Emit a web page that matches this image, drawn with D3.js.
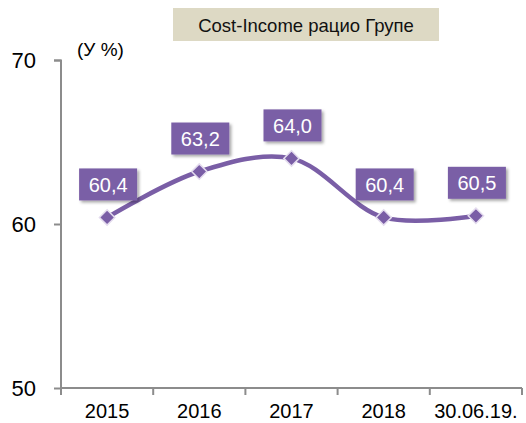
<!DOCTYPE html>
<html>
<head>
<meta charset="utf-8">
<script src="https://cdn.jsdelivr.net/npm/d3@7"></script>
<style>
  body { margin: 0; background: #fff; }
  text { font-family: "Liberation Sans", Arial, sans-serif; }
</style>
</head>
<body>
<script>
  var w = 526, h = 423;
  var categories = ["2015", "2016", "2017", "2018", "30.06.19."];
  var values = [60.4, 63.2, 64.0, 60.4, 60.5];
  var labels = ["60,4", "63,2", "64,0", "60,4", "60,5"];
  var yTicks = [50, 60, 70];
  var title = "Cost-Income рацио Групе";
  var unit = "(У %)";

  var purple = "#7a5ea6";
  var axisColor = "#8c8c8c";

  var svg = d3.select("body").append("svg")
    .attr("width", w).attr("height", h);

  var defs = svg.append("defs");
  var f = defs.append("filter").attr("id", "shadow")
    .attr("x", "-20%").attr("y", "-20%").attr("width", "150%").attr("height", "160%");
  f.append("feDropShadow").attr("dx", 2).attr("dy", 2).attr("stdDeviation", 1.8)
    .attr("flood-color", "#000").attr("flood-opacity", 0.35);

  var xScale = d3.scaleBand().domain(categories).range([61, 522]);
  var yScale = d3.scaleLinear().domain([50, 70]).range([388, 60]);

  // y axis
  var yAxis = d3.axisLeft(yScale).tickValues(yTicks).tickSize(7).tickPadding(18);
  var gy = svg.append("g").attr("transform", "translate(61,0)").call(yAxis);
  gy.select(".domain").attr("stroke", axisColor).attr("stroke-width", 2)
    .attr("d", "M-7,60.5H0V388");
  gy.selectAll(".tick line").attr("stroke", axisColor).attr("stroke-width", 2);
  gy.selectAll(".tick text").attr("font-size", 22).attr("fill", "#000")
    .attr("font-family", "Liberation Sans, Arial, sans-serif");

  // x axis
  var xAxis = d3.axisBottom(xScale).tickSize(0).tickPadding(16);
  var gx = svg.append("g").attr("transform", "translate(0,388)").call(xAxis);
  gx.select(".domain").attr("stroke", axisColor).attr("stroke-width", 2)
    .attr("d", "M61,0H522");
  gx.selectAll(".tick text").attr("font-size", 20).attr("fill", "#000")
    .attr("font-family", "Liberation Sans, Arial, sans-serif");
  var edges = categories.map(function (c) { return xScale(c); }).concat([xScale.range()[1]]);
  gx.selectAll(".sep").data(edges).enter().append("line")
    .attr("x1", function (d) { return d; }).attr("x2", function (d) { return d; })
    .attr("y1", 0).attr("y2", 7)
    .attr("stroke", axisColor).attr("stroke-width", 2);

  var cx = function (i) { return xScale(categories[i]) + xScale.bandwidth() / 2; };

  // line
  var line = d3.line()
    .x(function (d, i) { return cx(i); })
    .y(function (d) { return yScale(d); })
    .curve(d3.curveCatmullRom.alpha(0.5));
  svg.append("path").datum(values)
    .attr("fill", "none").attr("stroke", purple).attr("stroke-width", 4.5)
    .attr("stroke-linecap", "round").attr("d", line);

  // markers
  svg.selectAll(".mk").data(values).enter().append("path")
    .attr("transform", function (d, i) { return "translate(" + cx(i) + "," + yScale(d) + ")"; })
    .attr("d", d3.symbol().type(d3.symbolDiamond2).size(150))
    .attr("fill", purple).attr("stroke", "#e4dcee").attr("stroke-width", 1.5);

  // data labels
  var lg = svg.selectAll(".lbl").data(values).enter().append("g")
    .attr("transform", function (d, i) { return "translate(" + (cx(i) + 1) + "," + (yScale(d) - 33) + ")"; });
  lg.append("rect").attr("x", -29).attr("y", -16).attr("width", 58).attr("height", 32)
    .attr("fill", purple).attr("filter", "url(#shadow)");
  lg.append("text").attr("text-anchor", "middle").attr("dy", "0.36em")
    .attr("font-size", 20).attr("fill", "#fff")
    .text(function (d, i) { return labels[i]; });

  // title
  svg.append("rect").attr("x", 173).attr("y", 8).attr("width", 266).attr("height", 33)
    .attr("fill", "#ddd9c4");
  svg.append("text").attr("x", 306).attr("y", 25).attr("dy", "0.36em")
    .attr("text-anchor", "middle").attr("font-size", 18.5).attr("fill", "#111")
    .text(title);

  svg.append("text").attr("x", 77).attr("y", 49).attr("dy", "0.36em")
    .attr("font-size", 19).attr("fill", "#000").text(unit);
</script>
</body>
</html>
